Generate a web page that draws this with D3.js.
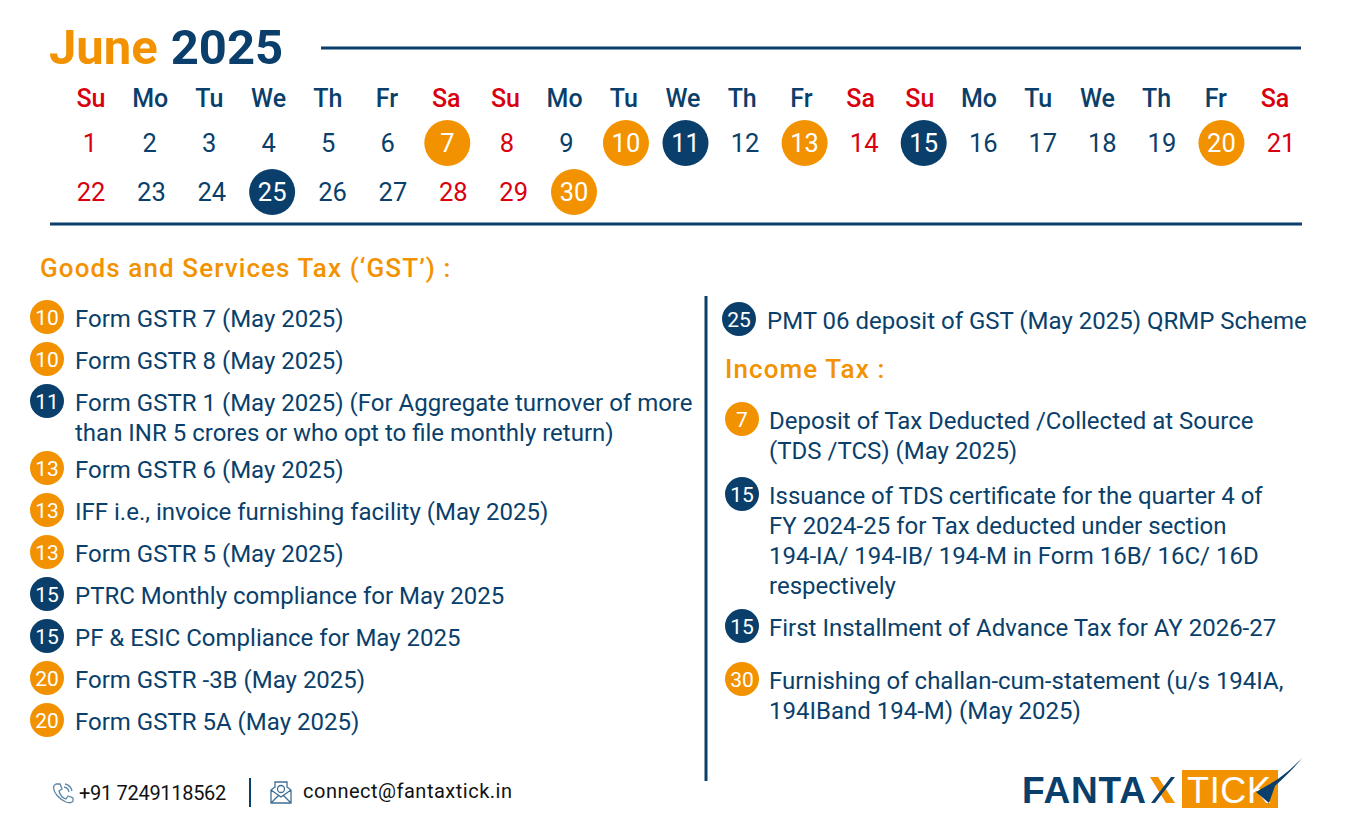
<!DOCTYPE html>
<html>
<head>
<meta charset="utf-8">
<title>June 2025</title>
<script src="https://cdnjs.cloudflare.com/ajax/libs/d3/7.9.0/d3.min.js"></script>
<style>
html, body { margin: 0; padding: 0; background: #fff; }
svg { display: block; }
text { font-family: Roboto, sans-serif; }
</style>
</head>
<body>
<script>
var weekdays = ["Su","Mo","Tu","We","Th","Fr","Sa","Su","Mo","Tu","We","Th","Fr","Sa","Su","Mo","Tu","We","Th","Fr","Sa"];
var firstRowDays = d3.range(1, 22);
var secondRowDays = d3.range(22, 31);
var holidays = [1,7,8,14,15,21,22,28,29];
var orangeDays = [7,10,13,20,30];
var navyDays = [11,15,25];

var gstDays = [10,10,11,13,13,13,15,15,20,20];
var gstItems = [
	["Form GSTR 7 (May 2025)"],
	["Form GSTR 8 (May 2025)"],
	["Form GSTR 1 (May 2025) (For Aggregate turnover of more","than INR 5 crores or who opt to file monthly return)"],
	["Form GSTR 6 (May 2025)"],
	["IFF i.e., invoice furnishing facility (May 2025)"],
	["Form GSTR 5 (May 2025)"],
	["PTRC Monthly compliance for May 2025"],
	["PF & ESIC Compliance for May 2025"],
	["Form GSTR -3B (May 2025)"],
	["Form GSTR 5A (May 2025)"]
];
var pmtDays = [25];
var pmtItems = [["PMT 06 deposit of GST (May 2025) QRMP Scheme"]];
var incomeDays = [7,15,15,30];
var incomeItems = [
	["Deposit of Tax Deducted /Collected at Source","(TDS /TCS) (May 2025)"],
	["Issuance of TDS certificate for the quarter 4 of","FY 2024-25 for Tax deducted under section","194-IA/ 194-IB/ 194-M in Form 16B/ 16C/ 16D","respectively"],
	["First Installment of Advance Tax for AY 2026-27"],
	["Furnishing of challan-cum-statement (u/s 194IA,","194IBand 194-M) (May 2025)"]
];

var width = 1349, height = 827;
var navy = "#0a3f6b", orange = "#f39200", red = "#d8000f";

var svg = d3.select("body").append("svg").attr("width", width).attr("height", height);

function rule(x1, y1, x2, y2, w) {
	svg.append("line").attr("x1",x1).attr("y1",y1).attr("x2",x2).attr("y2",y2)
		.attr("stroke",navy).attr("stroke-width",w);
}

// title
var title = svg.append("text").attr("x",49).attr("y",64).attr("font-size",49).attr("font-weight",700);
title.append("tspan").attr("fill",orange).text("June");
title.append("tspan").attr("fill",navy).attr("dx",13).text("2025");
rule(321,48,1301,48,3);
rule(50,224,1302,224,3);
rule(706,296,706,781,3);
rule(250,778,250,807,2);

// calendar
var xHead = d3.scalePoint().domain(d3.range(21)).range([91,1275]);
var xRow1 = d3.scalePoint().domain(firstRowDays).range([90,1281]);
var xRow2 = d3.scalePoint().domain(secondRowDays).range([91,574]);

svg.selectAll(".head").data(weekdays).enter().append("text").attr("class","head")
	.attr("x",function(d,i){ return xHead(i); }).attr("y",107)
	.attr("text-anchor","middle").attr("font-size",25).attr("font-weight",500)
	.attr("fill",function(d,i){ return (i%7==0 || i%7==6) ? red : navy; })
	.text(function(d){ return d; });

function drawDays(days, x, cy) {
	var g = svg.append("g").selectAll("g").data(days).enter().append("g")
		.attr("transform",function(d){ return "translate("+x(d)+","+cy+")"; });
	g.filter(function(d){ return orangeDays.indexOf(d)!=-1 || navyDays.indexOf(d)!=-1; })
		.append("circle").attr("r",23)
		.attr("fill",function(d){ return orangeDays.indexOf(d)!=-1 ? orange : navy; });
	g.append("text").attr("text-anchor","middle").attr("y",9).attr("font-size",25.5)
		.attr("fill",function(d){
			if (orangeDays.indexOf(d)!=-1 || navyDays.indexOf(d)!=-1) return "#fff";
			return holidays.indexOf(d)!=-1 ? red : navy;
		})
		.text(function(d){ return d; });
}
drawDays(firstRowDays, xRow1, 143);
drawDays(secondRowDays, xRow2, 192);

// section headings
function heading(label, x, y) {
	svg.append("text").attr("x",x).attr("y",y).attr("font-size",26).attr("font-weight",500)
		.attr("letter-spacing",1.1).attr("fill",orange).text(label);
}
heading("Goods and Services Tax (‘GST’) :", 40, 277);
heading("Income Tax :", 725, 378);

// lists
var advance = { left: d3.scaleOrdinal([1,2],[42,67]), right: d3.scaleOrdinal([1,2,4],[53,75,132]) };

function drawList(days, items, badgeX, textX, startY, step) {
	var y = startY;
	items.forEach(function(lines, i) {
		var color = orangeDays.indexOf(days[i])!=-1 ? orange : navy;
		svg.append("circle").attr("cx",badgeX).attr("cy",y-1).attr("r",17).attr("fill",color);
		svg.append("text").attr("x",badgeX).attr("y",y+6.5).attr("text-anchor","middle")
			.attr("font-size",21).attr("fill","#fff").text(days[i]);
		lines.forEach(function(line, j) {
			svg.append("text").attr("x",textX).attr("y",y+9+j*30).attr("font-size",24)
				.attr("fill",navy).text(line);
		});
		y += step(lines.length);
	});
}
drawList(gstDays, gstItems, 47, 75, 318, advance.left);
drawList(pmtDays, pmtItems, 739, 767, 320, advance.right);
drawList(incomeDays, incomeItems, 742, 769, 420, advance.right);

// footer contacts
svg.append("text").attr("x",79).attr("y",800).attr("font-size",20).attr("letter-spacing",-0.3).attr("fill","#111").text("+91 7249118562");
svg.append("text").attr("x",303).attr("y",798).attr("font-size",20).attr("letter-spacing",0.5).attr("fill","#111").text("connect@fantaxtick.in");

var phone = svg.append("g").attr("transform","translate(53,783)").attr("fill","none").attr("stroke","#5d86a6").attr("stroke-width",1.3);
phone.append("path").attr("d","M3 1 L7 1 L9 6 L6 8 C7 12 10 15 13 16 L15 13 L20 15 L20 18 C19 20 16 20 13 19 C6 16 1 10 0.5 5 C0.5 3 1.5 1.5 3 1Z");
phone.append("path").attr("d","M11 4 A6 6 0 0 1 16 9 M12 1 A9 9 0 0 1 19 8");

var mail = svg.append("g").attr("transform","translate(271,782)").attr("fill","none").attr("stroke","#3f6f95").attr("stroke-width",1.3);
mail.append("path").attr("d","M0 8 L4 5 L4 0 L16 0 L16 5 L20 8 L20 21 L0 21Z M0 8 L10 15 L20 8 M0 21 L8 13 M20 21 L12 13");
mail.append("circle").attr("cx",10).attr("cy",7).attr("r",3.5);

// logo
svg.append("text").attr("x",1022).attr("y",803).attr("font-size",37).attr("font-weight",700)
	.style("font-family","'Liberation Sans', sans-serif").attr("fill",navy).attr("textLength",124).text("FANTA");
var logoX = d3.line();
svg.append("path").attr("d",logoX([[1150,777],[1158,777],[1175,803],[1166,803]])+"Z").attr("fill",orange);
svg.append("path").attr("d",logoX([[1175,777],[1171,777],[1151,803],[1155,803]])+"Z").attr("fill",navy);
svg.append("rect").attr("x",1182).attr("y",770).attr("width",96).attr("height",38).attr("fill",orange);
svg.append("text").attr("x",1187).attr("y",803).attr("font-size",36).attr("font-weight",400)
	.style("font-family","'Liberation Sans', sans-serif").attr("fill","#fff").attr("textLength",84).text("TICK");
svg.append("path").attr("d","M1302 758 C1288 772 1282 777 1268 785 L1256 792 L1269 803 L1275 786 C1285 777 1295 767 1302 758Z").attr("fill",navy);
</script>
</body>
</html>
